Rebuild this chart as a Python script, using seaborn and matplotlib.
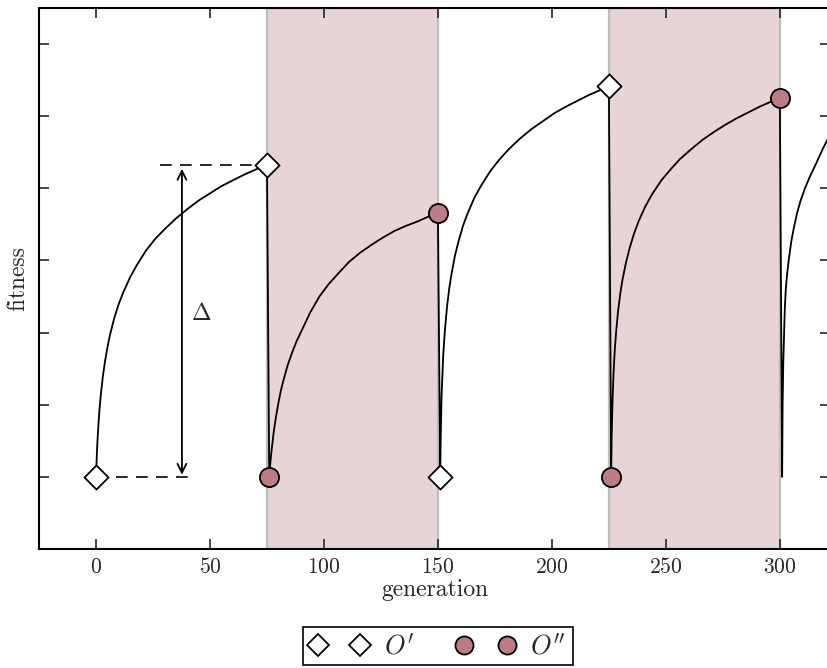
import numpy as np
import pandas as pd
import matplotlib
matplotlib.use("Agg")
import matplotlib.pyplot as plt
import seaborn as sns
from matplotlib.lines import Line2D

# ---- data ----
# each growth phase: start generation, offsets (generations since start), fitness
seg1_start = 0
seg1_t = [0, 0.25, 0.5, 1, 1.5, 2, 3, 4, 5, 6, 8, 10, 12, 15, 18, 22, 26, 30, 35, 40, 45, 50, 55, 60, 65, 70, 75]
seg1_fit = [1.00, 1.22, 1.41, 1.69, 1.92, 2.10, 2.39, 2.61, 2.79, 2.95, 3.20, 3.40, 3.56, 3.77, 3.94,
            4.14, 4.30, 4.43, 4.58, 4.71, 4.83, 4.93, 5.03, 5.11, 5.19, 5.26, 5.33]

seg2_start = 76
seg2_t = [0, 0.5, 1, 1.5, 2, 3, 4, 5, 6, 8, 10, 12, 15, 18, 22, 26, 30, 35, 40, 45, 50, 55, 60, 65, 70, 74]
seg2_fit = [1.00, 1.20, 1.36, 1.50, 1.63, 1.84, 2.02, 2.18, 2.31, 2.54, 2.72, 2.88, 3.08, 3.28, 3.50,
            3.67, 3.81, 3.98, 4.11, 4.22, 4.32, 4.41, 4.48, 4.54, 4.61, 4.66]

seg3_start = 151
seg3_t = [0, 0.1, 0.2, 0.3, 0.45, 0.6, 0.8, 1.0, 1.3, 1.7, 2.2, 3, 4, 5, 6.5, 8, 10, 12, 15, 18, 22,
          26, 30, 35, 40, 45, 50, 55, 60, 65, 70, 74]
seg3_fit = [1.00, 1.28, 1.50, 1.68, 1.90, 2.12, 2.28, 2.44, 2.67, 2.87, 3.08, 3.36, 3.62, 3.82, 4.07,
            4.26, 4.48, 4.65, 4.87, 5.04, 5.24, 5.40, 5.54, 5.69, 5.82, 5.93, 6.04, 6.13, 6.21, 6.29,
            6.36, 6.42]

seg4_start = 226
seg4_t = [0, 0.1, 0.2, 0.3, 0.45, 0.6, 0.8, 1.0, 1.3, 1.7, 2.2, 3, 4, 5, 6.5, 8, 10, 12, 15, 18, 22,
          26, 30, 35, 40, 45, 50, 55, 60, 65, 70, 74]
seg4_fit = [1.00, 1.33, 1.55, 1.68, 1.88, 2.05, 2.24, 2.40, 2.60, 2.81, 3.02, 3.29, 3.54, 3.74, 3.97,
            4.16, 4.37, 4.54, 4.75, 4.92, 5.11, 5.26, 5.40, 5.54, 5.67, 5.78, 5.88, 5.97, 6.05, 6.13,
            6.20, 6.25]

seg5_start = 301
seg5_t = [0, 0.1, 0.2, 0.35, 0.5, 0.75, 1.0, 1.2, 1.6, 2.2, 3, 4, 5, 6.5, 8, 10, 12, 15, 18, 21, 23]
seg5_fit = [1.00, 1.61, 1.97, 2.33, 2.58, 2.89, 3.15, 3.35, 3.60, 3.82, 4.03, 4.26, 4.43, 4.65, 4.82,
            5.00, 5.15, 5.35, 5.56, 5.74, 5.84]

o1_gen = [0, 75, 151, 225]          # O'  (diamonds)
o1_fit = [1.0, 5.33, 1.0, 6.42]
o2_gen = [76, 150, 226, 300]        # O'' (circles)
o2_fit = [1.0, 4.66, 1.0, 6.25]

shade_spans = [(75, 150), (225, 300)]
x_ticks = [0, 50, 100, 150, 200, 250, 300]
y_ticks = [0, 1, 2, 3, 4, 5, 6, 7]

delta_x = 37.7
delta_low, delta_high = 1.0, 5.33
dash_top = (28, 75)
dash_bottom = (0, 42.5)

# ---- styling ----
sns.set_style("ticks")
plt.rcParams["font.family"] = ["cmr10", "DejaVu Serif"]
plt.rcParams["mathtext.fontset"] = "cm"
plt.rcParams["axes.formatter.use_mathtext"] = True

circ_color = "#bc7c85"
span_color = "#e7d4d7"

fig = plt.figure(figsize=(8.28, 6.68), dpi=100)
W, H = 828, 668
ax = fig.add_axes([39 / W, (H - 549) / H, (830 - 39) / W, (549 - 8) / H])

for a, b in shade_spans:
    ax.axvspan(a, b, facecolor=span_color, edgecolor="#bdbdbd", lw=1.6, zorder=0)

segments = [(seg1_start, seg1_t, seg1_fit), (seg2_start, seg2_t, seg2_fit),
            (seg3_start, seg3_t, seg3_fit), (seg4_start, seg4_t, seg4_fit),
            (seg5_start, seg5_t, seg5_fit)]
gens, fits = [], []
for start, ts, fs in segments:
    gens += [start + t for t in ts]
    fits += list(fs)
line_df = pd.DataFrame({"generation": gens, "fitness": fits})
sns.lineplot(data=line_df, x="generation", y="fitness", sort=False, estimator=None,
             color="black", lw=1.3, ax=ax, zorder=2)

# dashed guides and delta arrow
ax.plot(dash_top, [delta_high, delta_high], color="black", lw=1.2, dashes=(7, 5), zorder=1)
ax.plot(dash_bottom, [delta_low, delta_low], color="black", lw=1.2, dashes=(7, 5), zorder=1)
ax.annotate("", xy=(delta_x, delta_low + 0.03), xytext=(delta_x, delta_high - 0.06),
            arrowprops=dict(arrowstyle="<->", lw=1.3, color="black",
                            shrinkA=0, shrinkB=0, mutation_scale=16))
ax.text(delta_x + 4, 3.26, r"$\Delta$", fontsize=17, ha="left", va="center")

o1_df = pd.DataFrame({"generation": o1_gen, "fitness": o1_fit})
o2_df = pd.DataFrame({"generation": o2_gen, "fitness": o2_fit})
sns.scatterplot(data=o1_df, x="generation", y="fitness", marker="D", s=150,
                color="white", edgecolor="black", linewidth=1.3, ax=ax, zorder=4)
sns.scatterplot(data=o2_df, x="generation", y="fitness", marker="o", s=190,
                color=circ_color, edgecolor="black", linewidth=1.3, ax=ax, zorder=4)

ax.set_xlim(-25, 322)
ax.set_ylim(0, 7.5)
ax.set_xticks(x_ticks)
ax.set_yticks(y_ticks)
ax.set_yticklabels([])
ax.tick_params(direction="in", length=7, width=1.2, top=True, right=True,
               labelsize=15.5, pad=6)
for sp in ax.spines.values():
    sp.set_linewidth(1.5)
    sp.set_color("black")
ax.set_xlabel("generation", fontsize=17, labelpad=1)
ax.set_ylabel("fitness", fontsize=17)
ax.yaxis.set_label_coords(-0.012, 0.5)

handles = [
    Line2D([], [], ls="none", marker="D", mfc="white", mec="black", ms=11, mew=1.3),
    Line2D([], [], ls="none", marker="o", mfc=circ_color, mec="black", ms=13, mew=1.3),
]
leg = fig.legend(handles, [r"$O'$", r"$O''$"], numpoints=2, ncol=2,
                 loc="center", bbox_to_anchor=(438 / W, (H - 646) / H),
                 fontsize=19, frameon=True, fancybox=False, edgecolor="black",
                 framealpha=1, handlelength=2.2, handletextpad=0.6,
                 columnspacing=1.6, borderpad=0.25)
leg.get_frame().set_linewidth(1.2)

fig.savefig("out.png", dpi=100)
